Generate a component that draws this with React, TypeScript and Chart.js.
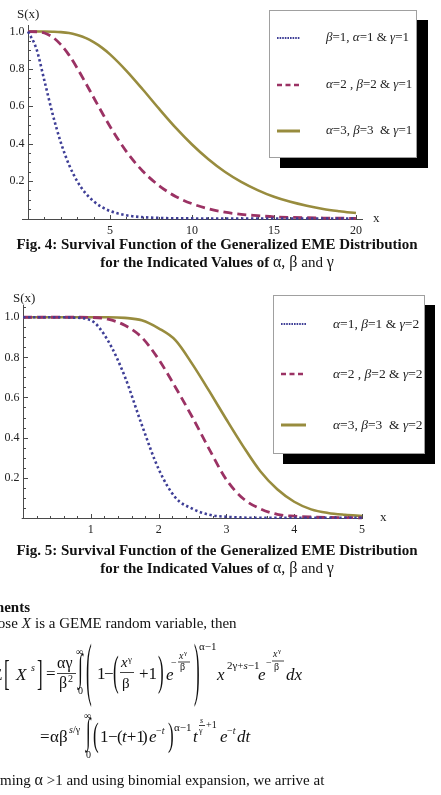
import React, { useEffect, useRef } from "react";
import { Chart, registerables } from "chart.js";

Chart.register(...registerables);

const FONT = "'Liberation Serif', 'Times New Roman', serif";

// ---- Fig. 4 data (γ = 1) ----
const fig4X = [0, 0.5, 1, 1.5, 2, 2.5, 3, 3.5, 4, 4.5, 5, 6, 7, 8, 9, 10, 11, 12, 13, 14, 15, 16, 17, 18, 19, 20];
const fig4Blue = [1, 0.91, 0.736, 0.558, 0.406, 0.287, 0.199, 0.136, 0.092, 0.061, 0.04, 0.017, 0.007, 0.003, 0.001, 0.0005, 0, 0, 0, 0, 0, 0, 0, 0, 0, 0];
const fig4Red = [1, 0.999, 0.992, 0.97, 0.93, 0.874, 0.804, 0.727, 0.647, 0.568, 0.492, 0.358, 0.253, 0.175, 0.118, 0.079, 0.052, 0.034, 0.022, 0.015, 0.009, 0.006, 0.004, 0.0025, 0.0015, 0.001];
const fig4Gold = [1, 1, 1, 0.999, 0.997, 0.992, 0.981, 0.966, 0.943, 0.914, 0.878, 0.79, 0.69, 0.586, 0.486, 0.396, 0.317, 0.25, 0.196, 0.152, 0.116, 0.089, 0.068, 0.051, 0.039, 0.029];
const fig4XTicks = [5, 10, 15, 20];
const fig4Labels = ["β=1, α=1 & γ=1", "α=2 , β=2 & γ=1", "α=3, β=3  & γ=1"];

// ---- Fig. 5 data (γ = 2) ----
const fig5X = [0, 0.25, 0.5, 0.75, 1, 1.25, 1.5, 1.75, 2, 2.25, 2.5, 2.75, 3, 3.25, 3.5, 3.75, 4, 4.25, 4.5, 4.75, 5];
const fig5Blue = [1, 1, 1, 0.998, 0.985, 0.885, 0.705, 0.465, 0.243, 0.1, 0.045, 0.015, 0.005, 0.001, 0, 0, 0, 0, 0, 0, 0];
const fig5Red = [1, 1, 1, 1, 0.999, 0.99, 0.96, 0.9, 0.79, 0.65, 0.5, 0.34, 0.19, 0.095, 0.045, 0.017, 0.008, 0.004, 0.002, 0.001, 0];
const fig5Gold = [1, 1, 1, 1, 1, 1, 0.997, 0.985, 0.945, 0.885, 0.765, 0.63, 0.49, 0.355, 0.232, 0.142, 0.08, 0.042, 0.024, 0.015, 0.009];
const fig5XTicks = [1, 2, 3, 4, 5];
const fig5Labels = ["α=1, β=1 & γ=2", "α=2 , β=2 & γ=2", "α=3, β=3  & γ=2"];

const yTicks = [0.2, 0.4, 0.6, 0.8, 1.0];
const yTickLabels = ["0.2", "0.4", "0.6", "0.8", "1.0"];

const BLUE = "rgb(62,62,150)";
const RED = "rgb(155,50,100)";
const GOLD = "rgb(152,140,62)";

const STYLES = [
  { color: BLUE, width: 2.6, dash: [2.4, 2.6] },
  { color: RED, width: 2.8, dash: [9, 5] },
  { color: GOLD, width: 2.6, dash: [] as number[] },
];
const SAMPLE_DASH = [[1.6, 1], [5, 3.5], []];
const SAMPLE_WIDTH = [2, 2.6, 3];

// Mathematica-style axes: lines through the origin with inward ticks
const mmaAxes = {
  id: "mmaAxes",
  beforeDatasetsDraw(chart: any, _args: any, o: any) {
    const { ctx, chartArea: ca } = chart;
    const xs = chart.scales.x;
    const ys = chart.scales.y;
    const x0 = Math.round(xs.getPixelForValue(0)) + 0.5;
    const y0 = Math.round(ys.getPixelForValue(0)) + 0.5;
    ctx.save();
    ctx.strokeStyle = "#4a4a4a";
    ctx.lineWidth = 1;
    ctx.beginPath();
    ctx.moveTo(ca.left, y0);
    ctx.lineTo(ca.right, y0);
    ctx.moveTo(x0, ca.top);
    ctx.lineTo(x0, y0);
    const nx = Math.floor(xs.max / o.xMinor + 1e-6);
    for (let i = 1; i <= nx; i++) {
      const v = i * o.xMinor;
      const major = i % o.xPerMajor === 0;
      const px = Math.round(xs.getPixelForValue(v)) + 0.5;
      ctx.moveTo(px, y0);
      ctx.lineTo(px, y0 - (major ? 4.5 : 2.5));
    }
    const ny = Math.floor(ys.max / 0.05 + 1e-6);
    for (let i = 1; i <= ny; i++) {
      const major = i % 4 === 0;
      const py = Math.round(ys.getPixelForValue(i * 0.05)) + 0.5;
      ctx.moveTo(x0, py);
      ctx.lineTo(x0 + (major ? 4.5 : 2.5), py);
    }
    ctx.stroke();

    ctx.fillStyle = "#222";
    ctx.font = `12px ${FONT}`;
    ctx.textBaseline = "middle";
    ctx.textAlign = "center";
    o.xTicks.forEach((v: number) => ctx.fillText(String(v), xs.getPixelForValue(v), y0 + 11));
    ctx.textAlign = "right";
    yTicks.forEach((v, i) => ctx.fillText(yTickLabels[i], x0 - 4, ys.getPixelForValue(v)));
    ctx.textAlign = "left";
    ctx.font = `13px ${FONT}`;
    ctx.fillText("x", o.xName[0], o.xName[1]);
    ctx.fillText("S(x)", o.sName[0], o.sName[1]);
    ctx.restore();
  },
};

function drawRich(ctx: CanvasRenderingContext2D, text: string, x: number, y: number, size: number) {
  let cx = x;
  for (const ch of text) {
    const greek = "αβγ".includes(ch);
    ctx.font = `${greek ? "italic " : ""}${size}px ${FONT}`;
    ctx.fillText(ch, cx, y);
    cx += ctx.measureText(ch).width;
  }
}

// Framed legend with a solid drop shadow
const boxLegend = {
  id: "boxLegend",
  afterDraw(chart: any, _args: any, o: any) {
    const { ctx } = chart;
    const [bx, by, bw, bh] = o.box;
    ctx.save();
    ctx.fillStyle = "#000";
    ctx.fillRect(bx + o.shadow[0], by + o.shadow[1], bw, bh);
    ctx.fillStyle = "#fff";
    ctx.fillRect(bx, by, bw, bh);
    ctx.strokeStyle = "#a0a0a0";
    ctx.lineWidth = 1;
    ctx.strokeRect(bx + 0.5, by + 0.5, bw - 1, bh - 1);
    chart.data.datasets.forEach((ds: any, i: number) => {
      const yy = o.rows[i];
      ctx.strokeStyle = ds.borderColor;
      ctx.lineWidth = SAMPLE_WIDTH[i];
      ctx.setLineDash(SAMPLE_DASH[i]);
      ctx.beginPath();
      ctx.moveTo(o.sample[0], yy);
      ctx.lineTo(o.sample[1], yy);
      ctx.stroke();
      ctx.setLineDash([]);
      ctx.fillStyle = "#222";
      ctx.textBaseline = "middle";
      ctx.textAlign = "left";
      drawRich(ctx, ds.label, o.textX, yy, o.fontSize);
    });
    ctx.restore();
  },
};

function makeDatasets(xs: number[], series: number[][], labels: string[]) {
  return series.map((vals, i) => ({
    label: labels[i],
    data: xs.map((x, j) => ({ x, y: vals[j] })),
    borderColor: STYLES[i].color,
    borderWidth: STYLES[i].width,
    borderDash: STYLES[i].dash,
    borderCapStyle: "butt",
    pointRadius: 0,
    fill: false,
    cubicInterpolationMode: "monotone",
    clip: false,
  }));
}

type PlotProps = {
  top: number;
  height: number;
  xs: number[];
  series: number[][];
  labels: string[];
  xRange: [number, number];
  yMax: number;
  padding: { left: number; right: number; top: number; bottom: number };
  axes: any;
  legend: any;
};

function Plot(p: PlotProps) {
  const ref = useRef<HTMLCanvasElement>(null);
  useEffect(() => {
    if (!ref.current) return;
    const chart = new Chart(ref.current, {
      type: "line",
      data: { datasets: makeDatasets(p.xs, p.series, p.labels) as any },
      options: {
        animation: false,
        responsive: false,
        maintainAspectRatio: false,
        events: [],
        layout: { padding: p.padding },
        scales: {
          x: { type: "linear", min: p.xRange[0], max: p.xRange[1], display: false },
          y: { type: "linear", min: 0, max: p.yMax, display: false },
        },
        plugins: {
          legend: { display: false },
          tooltip: { enabled: false },
          mmaAxes: p.axes,
          boxLegend: p.legend,
        } as any,
      },
      plugins: [mmaAxes, boxLegend],
    });
    return () => chart.destroy();
  }, []);
  return (
    <canvas
      ref={ref}
      width={441}
      height={p.height}
      style={{ position: "absolute", left: 0, top: p.top, width: 441, height: p.height }}
    />
  );
}

function T(props: { x: number; y: number; s?: number; it?: boolean; b?: boolean; anchor?: string; children: any }) {
  const { x, y, s = 17, it = false, b = false, anchor, children } = props;
  return (
    <text x={x} y={y} fontSize={s} fontStyle={it ? "italic" : "normal"} fontWeight={b ? "bold" : "normal"} textAnchor={anchor as any}>
      {children}
    </text>
  );
}

// Vertically stretched delimiter spanning [top, bot]
function Delim(props: { ch: string; x: number; top: number; bot: number; s?: number }) {
  const { ch, x, top, bot, s = 17 } = props;
  const k = (bot - top) / (0.87 * s);
  const base = bot - 0.18 * s * k;
  return (
    <text transform={`translate(${x},${base.toFixed(2)}) scale(1,${k.toFixed(3)})`} fontSize={s}>
      {ch}
    </text>
  );
}

// Integral sign stretched vertically about its baseline
function Integral(props: { x: number; y: number; k: number }) {
  return (
    <text transform={`translate(${props.x},${props.y}) scale(1,${props.k})`} fontSize={17}>
      ∫
    </text>
  );
}

function Bar(props: { x1: number; x2: number; y: number }) {
  return <line x1={props.x1} x2={props.x2} y1={props.y} y2={props.y} stroke="#111" strokeWidth={0.8} />;
}

function Caption(props: { y: number; fig: string }) {
  return (
    <g>
      <text x={217} y={props.y} textAnchor="middle" fontSize={15} fontWeight="bold">
        {`Fig. ${props.fig}: Survival Function of the Generalized EME Distribution`}
      </text>
      <text x={217} y={props.y + 18} textAnchor="middle" fontSize={15}>
        <tspan fontWeight="bold">for the Indicated Values of </tspan>
        <tspan fontSize={16}>α, β</tspan>
        <tspan> and </tspan>
        <tspan fontSize={16}>γ</tspan>
      </text>
    </g>
  );
}

function TextLayer() {
  return (
    <svg
      width={441}
      height={795}
      style={{ position: "absolute", left: 0, top: 0 }}
      fontFamily={FONT}
      fill="#111"
    >
      <Caption y={249} fig="4" />
      <Caption y={555} fig="5" />

      <T x={-30} y={612} s={15} b>Moments</T>
      <text x={-33} y={628} fontSize={15}>
        Suppose<tspan dx={4} fontStyle="italic">X</tspan>
        <tspan dx={4}>is a GEME random variable, then</tspan>
      </text>

      {/* E[X^s] = αγ/β² ∫ (1 − (x^γ/β + 1) e^(−x^γ/β))^(α−1) x^(2γ+s−1) e^(−x^γ/β) dx */}
      <T x={-8} y={680}>E</T>
      <Delim ch="[" x={4} top={660} bot={692} />
      <T x={16} y={680} it>X</T>
      <T x={31} y={671} s={10} it>s</T>
      <Delim ch="]" x={37} top={660} bot={692} />
      <T x={46} y={679}>=</T>
      <T x={57} y={668} s={16}>αγ</T>
      <Bar x1={57} x2={76} y={673.5} />
      <T x={59} y={688} s={16}>β</T>
      <T x={68} y={682} s={10}>2</T>
      <Integral x={78} y={680} k={2.2} />
      <T x={76} y={655} s={10}>∞</T>
      <T x={78} y={694} s={10}>0</T>
      <Delim ch="(" x={86} top={644} bot={704} />
      <T x={97} y={679}>1</T>
      <T x={104} y={679}>−</T>
      <Delim ch="(" x={113} top={656} bot={692} />
      <T x={121} y={667} s={15} it>x</T>
      <T x={128} y={662} s={9}>γ</T>
      <Bar x1={120} x2={134} y={672.5} />
      <T x={122} y={688} s={15}>β</T>
      <T x={139} y={679}>+1</T>
      <Delim ch=")" x={158} top={656} bot={692} />
      <T x={166} y={680} it>e</T>
      <T x={171} y={666} s={10}>−</T>
      <T x={179} y={659} s={10} it>x</T>
      <T x={184} y={655} s={7}>γ</T>
      <Bar x1={178} x2={190} y={662} />
      <T x={180} y={670} s={10}>β</T>
      <Delim ch=")" x={194} top={644} bot={704} />
      <T x={199} y={650} s={11}>α−1</T>
      <T x={217} y={680} it>x</T>
      <text x={227} y={669} fontSize={11}>
        2γ+<tspan fontStyle="italic">s</tspan>−1
      </text>
      <T x={258} y={680} it>e</T>
      <T x={266} y={666} s={10}>−</T>
      <T x={273} y={657} s={10} it>x</T>
      <T x={278} y={653} s={7}>γ</T>
      <Bar x1={272} x2={284} y={661} />
      <T x={274} y={670} s={10}>β</T>
      <T x={286} y={680} it>dx</T>

      {/* = αβ^(s/γ) ∫ (1 − (t+1)e^(−t))^(α−1) t^(s/γ+1) e^(−t) dt */}
      <T x={40} y={742}>=</T>
      <T x={50} y={742}>αβ</T>
      <text x={69} y={733} fontSize={10}>
        <tspan fontStyle="italic">s</tspan>/γ
      </text>
      <Integral x={86} y={743} k={2.1} />
      <T x={84} y={719} s={10}>∞</T>
      <T x={86} y={758} s={10}>0</T>
      <Delim ch="(" x={93} top={723} bot={752} />
      <T x={100} y={742}>1</T>
      <T x={108} y={742}>−</T>
      <T x={117} y={742}>(</T>
      <text x={122} y={742} fontSize={17}>
        <tspan fontStyle="italic">t</tspan>+1
      </text>
      <T x={142} y={742}>)</T>
      <T x={149} y={742} it>e</T>
      <text x={156} y={734} fontSize={10}>
        −<tspan fontStyle="italic">t</tspan>
      </text>
      <Delim ch=")" x={168} top={723} bot={752} />
      <T x={174} y={731} s={11}>α−1</T>
      <T x={193} y={742} it>t</T>
      <T x={200} y={723} s={8} it>s</T>
      <Bar x1={199} x2={205} y={725.5} />
      <T x={199} y={733} s={8}>γ</T>
      <T x={206} y={728} s={10}>+1</T>
      <T x={220} y={742} it>e</T>
      <text x={227} y={734} fontSize={10}>
        −<tspan fontStyle="italic">t</tspan>
      </text>
      <T x={237} y={742} it>dt</T>

      <text x={-30} y={785} fontSize={15}>
        Assuming <tspan fontSize={16}>α</tspan> &gt;1 and using binomial expansion, we arrive at
      </text>
    </svg>
  );
}

export default function App() {
  return (
    <div style={{ position: "absolute", left: 0, top: 0, width: 441, height: 795, overflow: "hidden", background: "#fff" }}>
      <Plot
        top={0}
        height={240}
        xs={fig4X}
        series={[fig4Blue, fig4Red, fig4Gold]}
        labels={fig4Labels}
        xRange={[-0.37, 20.43]}
        yMax={1.035}
        padding={{ left: 22, right: 78, top: 25, bottom: 21.5 }}
        axes={{ xMinor: 1, xPerMajor: 5, xTicks: fig4XTicks, xName: [373, 219], sName: [17, 15] }}
        legend={{ box: [269, 10, 148, 148], shadow: [11, 10], rows: [38, 85, 131], sample: [277, 300], textX: 326, fontSize: 13 }}
      />
      <Plot
        top={280}
        height={260}
        xs={fig5X}
        series={[fig5Blue, fig5Red, fig5Gold]}
        labels={fig5Labels}
        xRange={[-0.02, 5.015]}
        yMax={1.061}
        padding={{ left: 21.7, right: 78, top: 25, bottom: 22.2 }}
        axes={{ xMinor: 0.2, xPerMajor: 5, xTicks: fig5XTicks, xName: [380, 238], sName: [13, 19] }}
        legend={{ box: [273, 15, 152, 159], shadow: [10, 10], rows: [44, 94, 145], sample: [281, 306], textX: 333, fontSize: 13.5 }}
      />
      <TextLayer />
    </div>
  );
}
